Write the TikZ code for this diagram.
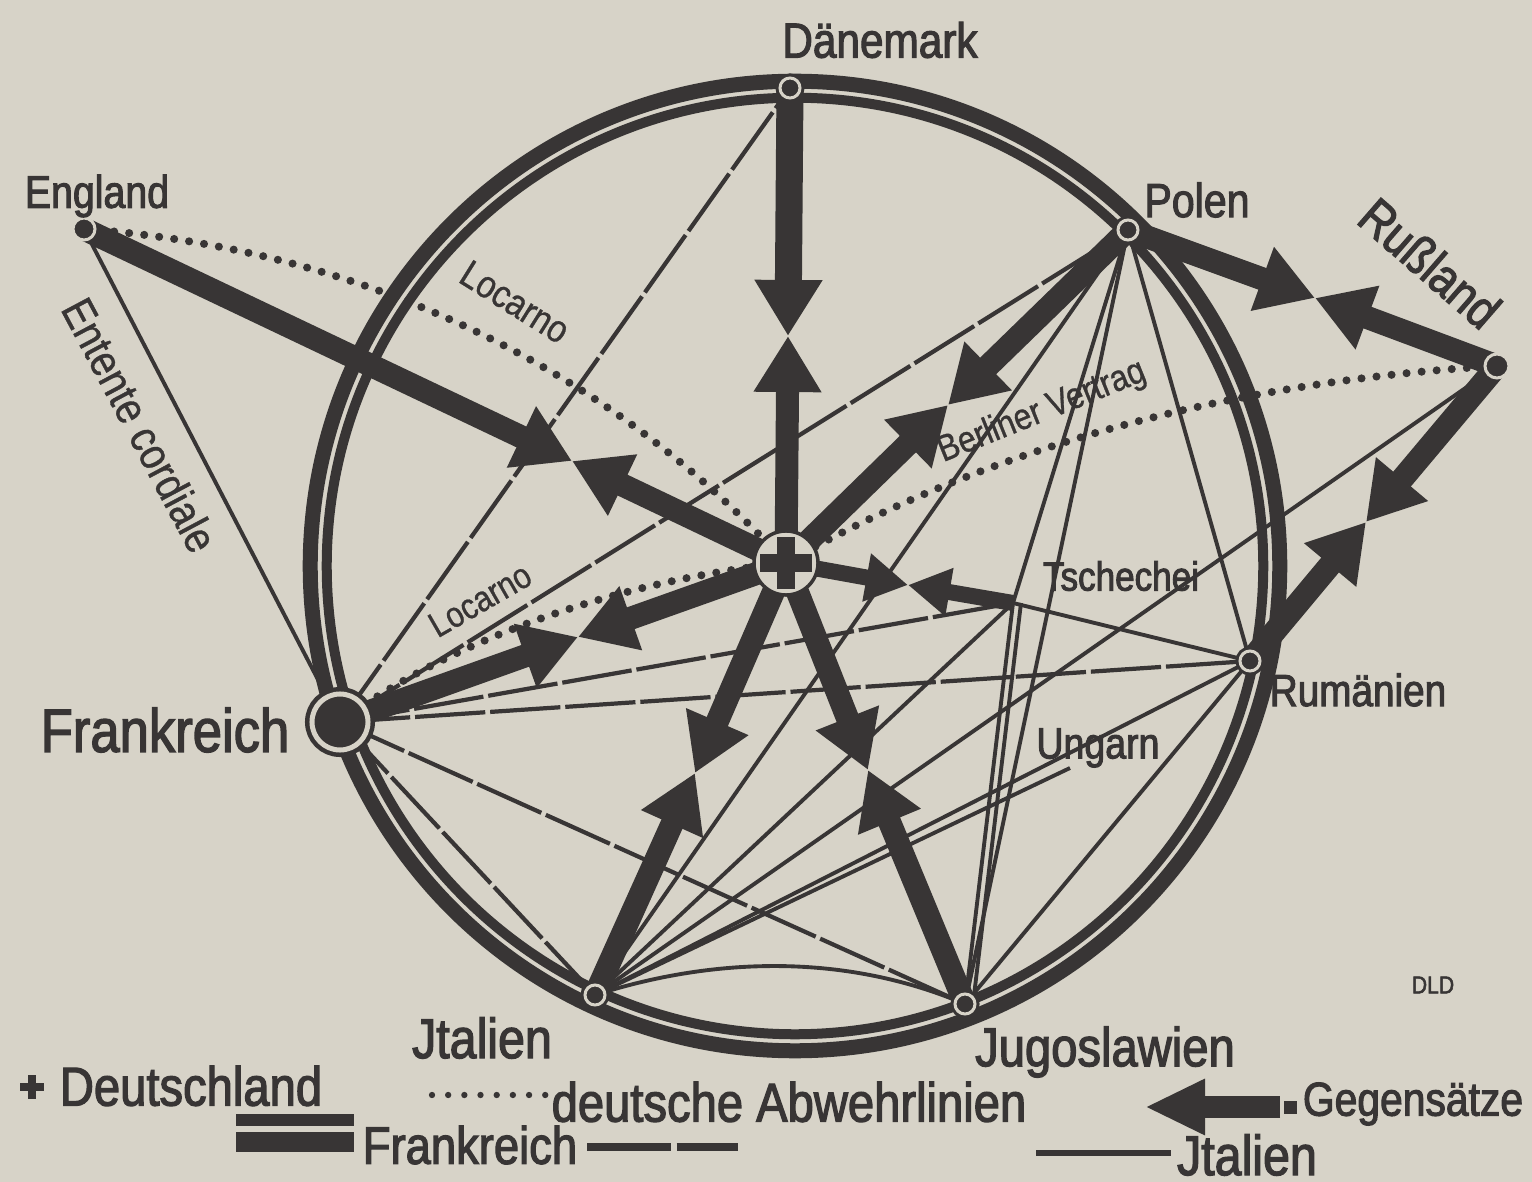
\documentclass[tikz,border=0pt]{standalone}
\usepackage{fontspec}
\setmainfont{Liberation Sans}[FakeStretch=0.86,FakeBold=2.2]
\newfontfamily\thinf{Liberation Sans}[FakeStretch=0.86,FakeBold=0.8]
\usetikzlibrary{arrows.meta}
\definecolor{paper}{RGB}{215,211,200}
\definecolor{ink}{RGB}{56,53,53}
\pgfdeclarelayer{paperlayer}
\pgfdeclarelayer{bg}
\pgfsetlayers{paperlayer,bg,main}
\newcommand{\myfs}[1]{\fontsize{#1}{#1}\selectfont}
\begin{document}
\begin{tikzpicture}[x=0.01cm,y=-0.01cm,
  lbl/.style={text=ink, inner sep=0pt},
  frline/.style={draw=ink, line width=1.2pt, dash pattern=on 20pt off 1.4pt},
  itline/.style={draw=ink, line width=1.1pt},
  abwehr/.style={draw=ink, line width=2.3pt, dash pattern=on 0pt off 4.3pt, line cap=round},
  gegen/.style={draw=ink, line width=0.23cm, -{Triangle[length=0.56cm,width=0.64cm]}},
  gegensm/.style={draw=ink, line width=0.16cm, -{Triangle[length=0.42cm,width=0.46cm]}},
  land/.style={circle, fill=ink, draw=paper, line width=0.03cm, minimum size=0.2cm, inner sep=0pt, preaction={draw=ink, line width=0.09cm}},
  dotland/.style={circle, fill=ink, draw=paper, line width=0.03cm, minimum size=0.22cm, inner sep=0pt},
]
\begin{pgfonlayer}{paperlayer}
\fill[paper] (0,0) rectangle (1532,1182);
\end{pgfonlayer}
\useasboundingbox (0,0) rectangle (1532,1182);

% ---- nodes
\node[land] (DK) at (790,88) {};
\node[land] (PL) at (1128,230) {};
\node[land] (RO) at (1250,661) {};
\node[land] (YU) at (965,1004) {};
\node[land] (IT) at (595,995) {};
\node[circle, fill=ink, draw=paper, line width=0.05cm, minimum size=0.56cm, inner sep=0pt, preaction={draw=ink, line width=0.14cm}] (FR) at (340,722) {};
\node[dotland] (EN) at (84,229) {};
\node[dotland, minimum size=0.24cm] (RU) at (1497,366) {};
\node[circle, fill=paper, draw=ink, line width=0.035cm, minimum size=0.64cm, inner sep=0pt] (C) at (786,563) {};
\fill[ink] (C) ++(-26,-9) rectangle ++(52,18);
\fill[ink] (C) ++(-9,-26) rectangle ++(18,52);

\coordinate (O) at (795,566);
\coordinate (TS) at (1013,603);
\coordinate (UN) at (1070,768);
\coordinate (M1) at (788,336);
\coordinate (M2) at (572,461);
\coordinate (M3) at (948,405);
\coordinate (M4) at (578,637);
\coordinate (M5) at (695,773);
\coordinate (M6) at (868,770);
\coordinate (M7) at (908,585);
\coordinate (M8) at (1315,298);
\coordinate (M9) at (1366,522);

\begin{pgfonlayer}{bg}
% thin lines
\draw[itline] (EN.center) -- (FR.center);
\draw[frline] (FR.center) -- (DK.center);
\draw[frline] (FR.center) -- (PL.center);
\draw[frline] (FR.center) -- (TS);
\draw[frline] (FR.center) -- (RO.center);
\draw[frline] (FR.center) -- (YU.center);
\draw[frline] (FR.center) -- (IT.center);
\draw[itline] (PL.center) -- (IT.center);
\draw[itline] (PL.center) -- (TS);
\draw[itline] (PL.center) -- (YU.center);
\draw[itline] (PL.center) -- (RO.center);
\draw[itline] (TS) -- (RO.center);
\draw[itline] (TS) -- (YU.center);
\draw[itline] ([xshift=0.08cm]TS) -- ([xshift=0.08cm]YU.center);
\draw[itline] (YU.center) -- (RO.center);
\draw[itline] (IT.center) -- (TS);
\draw[itline] (IT.center) -- (RU.center);
\draw[itline] (IT.center) -- (RO.center);
\draw[itline] (IT.center) -- (UN);
\draw[itline] (IT.center) .. controls (720,955) and (850,955) .. (YU.center);
% ring
\draw[ink, line width=0.15cm] (O) circle[radius=4.845cm];
\draw[ink, line width=0.10cm] (O) circle[radius=4.68cm];
% dotted defence lines
\draw[abwehr] (EN.center) .. controls (380,250) and (620,380) .. (C.center);
\draw[abwehr] (FR.center) .. controls (450,640) and (620,580) .. (C.center);
\draw[abwehr] (RU.center) .. controls (1250,380) and (1000,440) .. (C.center);
% opposing arrows
\draw[gegen, line width=0.27cm] (DK.center) -- (M1);
\draw[gegen] (C.center) -- (M1);
\draw[gegen] (EN.center) -- (M2);
\draw[gegen] (C.center) -- (M2);
\draw[gegen] (PL.center) -- (M3);
\draw[gegen] (C.center) -- (M3);
\draw[gegen] (FR.center) -- (M4);
\draw[gegen] (C.center) -- (M4);
\draw[gegen] (IT.center) -- (M5);
\draw[gegen] (C.center) -- (M5);
\draw[gegen] (YU.center) -- (M6);
\draw[gegen] (C.center) -- (M6);
\draw[gegensm] (C.center) -- (M7);
\draw[gegensm] (TS) -- (M7);
\draw[gegen] (PL.center) -- (M8);
\draw[gegen] (RU.center) -- (M8);
\draw[gegen] (RU.center) -- (M9);
\draw[gegen] (RO.center) -- (M9);
\end{pgfonlayer}

% ---- labels
\node[lbl, font=\myfs{14}] (tDK) at (880,40) {Dänemark};
\node[lbl, font=\myfs{13}] (tEN) at (97,196) {England};
\node[lbl, font=\myfs{13.6}] (tPL) at (1197,200) {Polen};
\node[lbl, font=\myfs{14.6}, rotate=-41] (tRU) at (1430,263) {Rußland};
\node[lbl, font=\myfs{12.8}] (tRO) at (1358,690) {Rumänien};
\node[lbl, font=\myfs{15.6}] (tYU) at (1105,1052) {Jugoslawien};
\node[lbl, font=\myfs{16}] (tIT) at (482,1038) {Jtalien};
\node[lbl, font=\myfs{17.4}] (tFR) at (165,730) {Frankreich};
\node[lbl, font=\myfs{11.6}] (tTS) at (1121,576) {Tschechei};
\node[lbl, font=\myfs{12.4}] (tUN) at (1098,748) {Ungarn};
\node[lbl, font=\thinf\myfs{11}, rotate=-32] (tLo1) at (515,302) {Locarno};
\node[lbl, font=\thinf\myfs{10.2}, rotate=30] (tLo2) at (480,600) {Locarno};
\node[lbl, font=\thinf\myfs{10.5}, rotate=22] (tBV) at (1042,412) {Berliner Vertrag};
\node[lbl, font=\thinf\myfs{12.8}, rotate=-62] (tEC) at (140,425) {Entente cordiale};
\node[lbl, font=\myfs{7}] (tDLD) at (1433,985) {DLD};

% ---- legend
\fill[ink] (32,1087) ++(-12,-4) rectangle ++(24,8);
\fill[ink] (32,1087) ++(-4,-12) rectangle ++(8,24);
\node[lbl, font=\myfs{15.6}] (lDE) at (191,1086) {Deutschland};
\coordinate (LD1) at (432,1095);
\coordinate (LD2) at (548,1095);
\draw[abwehr, line width=1.8pt, dash pattern=on 0pt off 4.6pt] (LD1) -- (LD2);
\node[lbl, font=\myfs{15.6}] (lAB) at (789,1102) {deutsche Abwehrlinien};
\coordinate (LA1) at (1280,1107);
\coordinate (LA2) at (1145,1107);
\draw[gegen, line width=0.22cm, -{Triangle[length=0.6cm,width=0.52cm]}] (LA1) -- (LA2);
\fill[ink] (1284,1101) rectangle (1297,1114);
\node[lbl, font=\myfs{13.5}] (lGG) at (1413,1104) {Gegensätze};
\fill[ink] (236,1114) rectangle (354,1126);
\fill[ink] (236,1132) rectangle (354,1152);
\node[lbl, font=\myfs{15}] (lFR) at (470,1145) {Frankreich};
\coordinate (LF1) at (587,1147);
\coordinate (LF2) at (738,1147);
\draw[frline, line width=2pt, dash pattern=on 24pt off 1.5pt] (LF1) -- (LF2);
\coordinate (LI1) at (1036,1153);
\coordinate (LI2) at (1171,1153);
\draw[itline, line width=1.6pt] (LI1) -- (LI2);
\node[lbl, font=\myfs{16}] (lIT) at (1247,1155) {Jtalien};
\end{tikzpicture}
\end{document}
